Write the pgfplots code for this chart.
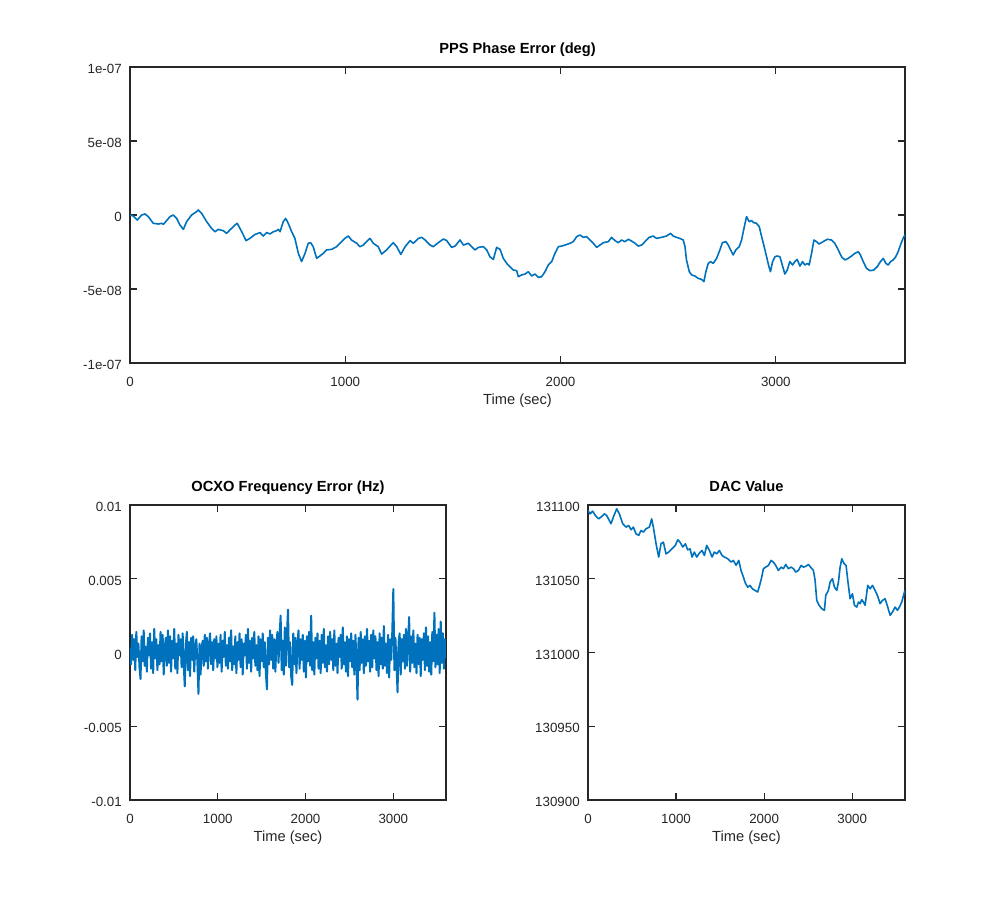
\documentclass[border=0pt]{standalone}
\usepackage{fontspec}
\setmainfont{Liberation Sans}
\usepackage{pgfplots}
\usepackage{pgfplotstable}
\pgfplotsset{compat=1.18}
\definecolor{octblue}{RGB}{0,114,189}
\definecolor{axgray}{rgb}{0.15,0.15,0.15}
\pgfplotsset{
  octave/.style={
    scale only axis,
    scaled y ticks=false,
    scaled x ticks=false,
    axis line style={axgray, line width=0.9pt},
    every tick/.style={axgray, line width=0.9pt},
    major tick length=5pt,
    tick align=inside,
    xmin=0, xmax=3600,
    xtick={0,1000,2000,3000},
    xticklabels={0,1000,2000,3000},
    tick label style={font=\fontsize{10}{12}\selectfont, text=axgray},
    xticklabel style={anchor=base, yshift=-17.5pt},
    yticklabel style={anchor=east, inner sep=0pt, xshift=-6pt, yshift=-1.5pt},
    xlabel={Time (sec)},
    xlabel style={at={(axis description cs:0.5,0)}, anchor=base, yshift=-31pt, font=\fontsize{11}{13}\selectfont, text=axgray},
    title style={at={(axis description cs:0.5,1)}, anchor=base, yshift=4pt, font=\bfseries\fontsize{11}{13}\selectfont, text=black},
  },
  octline/.style={octblue, line width=1.2pt, mark=none, line join=round},
}
\pgfplotstableread{
t v
0 0.00e-8
15 -0.07e-8
34 -0.34e-8
54 0.00e-8
70 0.07e-8
85 -0.11e-8
108 -0.56e-8
132 -0.61e-8
147 -0.56e-8
155 -0.63e-8
170 -0.38e-8
186 -0.11e-8
201 0.00e-8
217 -0.23e-8
232 -0.68e-8
248 -0.97e-8
263 -0.45e-8
286 0.00e-8
310 0.23e-8
317 0.34e-8
333 0.11e-8
356 -0.45e-8
379 -0.90e-8
395 -1.13e-8
410 -0.97e-8
433 -1.06e-8
449 -1.24e-8
464 -1.01e-8
488 -0.68e-8
498 -0.56e-8
519 -1.13e-8
539 -1.73e-8
557 -1.58e-8
581 -1.31e-8
604 -1.19e-8
619 -1.42e-8
635 -1.19e-8
650 -1.28e-8
666 -1.13e-8
681 -1.06e-8
689 -0.97e-8
697 -1.13e-8
712 -0.45e-8
723 -0.23e-8
735 -0.56e-8
751 -1.13e-8
766 -1.58e-8
782 -2.59e-8
797 -3.15e-8
813 -2.59e-8
828 -1.91e-8
839 -1.87e-8
851 -2.14e-8
867 -2.93e-8
882 -2.77e-8
898 -2.59e-8
913 -2.36e-8
937 -2.32e-8
960 -2.14e-8
983 -1.80e-8
998 -1.58e-8
1014 -1.42e-8
1029 -1.69e-8
1053 -1.91e-8
1068 -2.14e-8
1084 -2.03e-8
1099 -1.80e-8
1115 -1.58e-8
1130 -1.91e-8
1153 -2.14e-8
1169 -2.64e-8
1192 -2.36e-8
1208 -2.10e-8
1223 -1.87e-8
1239 -2.14e-8
1258 -2.66e-8
1278 -2.14e-8
1301 -1.73e-8
1316 -1.91e-8
1340 -1.58e-8
1355 -1.51e-8
1371 -1.69e-8
1394 -2.03e-8
1409 -2.14e-8
1432 -1.87e-8
1456 -1.62e-8
1471 -1.73e-8
1494 -2.19e-8
1510 -2.10e-8
1533 -1.69e-8
1549 -2.03e-8
1572 -1.91e-8
1587 -2.14e-8
1603 -2.36e-8
1618 -2.19e-8
1641 -2.14e-8
1657 -2.36e-8
1672 -2.82e-8
1688 -3.00e-8
1703 -2.19e-8
1719 -2.32e-8
1734 -2.93e-8
1750 -3.27e-8
1765 -3.49e-8
1781 -3.72e-8
1796 -3.76e-8
1804 -4.17e-8
1819 -4.05e-8
1835 -3.99e-8
1850 -3.83e-8
1866 -4.12e-8
1881 -3.99e-8
1897 -4.21e-8
1912 -4.17e-8
1928 -3.83e-8
1943 -3.38e-8
1959 -3.15e-8
1974 -2.59e-8
1990 -2.14e-8
2005 -2.10e-8
2021 -2.03e-8
2044 -1.91e-8
2059 -1.80e-8
2075 -1.46e-8
2090 -1.35e-8
2106 -1.51e-8
2121 -1.46e-8
2137 -1.69e-8
2152 -1.91e-8
2168 -2.19e-8
2183 -2.03e-8
2199 -1.87e-8
2222 -1.80e-8
2237 -1.51e-8
2253 -1.73e-8
2268 -1.87e-8
2284 -1.69e-8
2299 -1.80e-8
2315 -1.64e-8
2330 -1.76e-8
2346 -1.91e-8
2361 -2.10e-8
2377 -2.03e-8
2392 -1.80e-8
2412 -1.51e-8
2430 -1.42e-8
2446 -1.58e-8
2469 -1.51e-8
2492 -1.42e-8
2511 -1.24e-8
2523 -1.42e-8
2539 -1.51e-8
2554 -1.58e-8
2570 -1.69e-8
2578 -2.14e-8
2585 -3.04e-8
2598 -3.83e-8
2609 -4.05e-8
2624 -4.12e-8
2639 -4.28e-8
2655 -4.35e-8
2666 -4.50e-8
2675 -3.83e-8
2686 -3.27e-8
2697 -3.15e-8
2709 -3.27e-8
2725 -2.93e-8
2740 -2.36e-8
2752 -1.87e-8
2768 -1.80e-8
2779 -2.03e-8
2790 -2.36e-8
2802 -2.70e-8
2814 -2.36e-8
2830 -2.14e-8
2841 -1.69e-8
2852 -0.90e-8
2864 -0.11e-8
2876 -0.45e-8
2887 -0.38e-8
2898 -0.52e-8
2910 -0.56e-8
2923 -0.79e-8
2934 -1.46e-8
2944 -2.03e-8
2957 -2.82e-8
2968 -3.49e-8
2975 -3.83e-8
2985 -3.15e-8
2996 -2.82e-8
3006 -2.77e-8
3019 -2.82e-8
3030 -3.38e-8
3042 -3.99e-8
3053 -3.72e-8
3065 -3.15e-8
3078 -3.38e-8
3088 -3.15e-8
3099 -3.00e-8
3112 -3.45e-8
3124 -3.15e-8
3135 -3.38e-8
3146 -3.27e-8
3155 -3.38e-8
3166 -2.59e-8
3177 -1.69e-8
3189 -1.80e-8
3201 -1.96e-8
3220 -1.80e-8
3239 -1.64e-8
3259 -1.69e-8
3274 -1.91e-8
3290 -2.36e-8
3305 -2.82e-8
3321 -3.04e-8
3336 -2.93e-8
3352 -2.77e-8
3367 -2.59e-8
3383 -2.48e-8
3393 -2.70e-8
3406 -3.15e-8
3421 -3.60e-8
3437 -3.76e-8
3455 -3.72e-8
3471 -3.49e-8
3486 -3.15e-8
3499 -2.93e-8
3511 -3.27e-8
3522 -3.38e-8
3533 -3.15e-8
3545 -3.04e-8
3557 -2.82e-8
3568 -2.48e-8
3579 -2.03e-8
3591 -1.58e-8
3600 -1.35e-8
}\phasetable
\pgfplotstableread{
t v
0 131096.3
23 131094.0
53 131095.8
83 131092.9
121 131090.6
148 131091.8
186 131094.0
212 131092.9
242 131089.5
261 131087.3
288 131091.8
326 131097.4
356 131094.0
394 131087.3
432 131085.0
462 131086.1
489 131083.2
515 131085.0
545 131080.5
576 131079.4
602 131082.7
629 131081.6
659 131083.9
697 131085.0
723 131090.6
742 131085.0
773 131073.7
803 131064.7
829 131073.7
856 131074.8
886 131066.9
917 131068.1
954 131070.3
992 131072.6
1019 131076.4
1045 131074.8
1076 131071.5
1106 131073.7
1132 131069.6
1159 131070.3
1182 131064.7
1208 131068.1
1235 131064.7
1265 131067.4
1295 131069.2
1322 131065.8
1348 131072.6
1379 131069.2
1409 131064.7
1435 131068.1
1462 131066.9
1492 131069.2
1522 131065.8
1549 131064.7
1587 131063.6
1625 131061.3
1651 131062.4
1682 131059.1
1712 131062.4
1738 131055.6
1765 131051.1
1784 131047.5
1814 131044.2
1840 131045.5
1867 131043.2
1897 131042.1
1927 131041.0
1954 131046.6
1973 131051.1
1992 131056.8
2018 131057.9
2049 131059.0
2079 131062.4
2105 131061.3
2132 131059.0
2162 131055.6
2193 131057.9
2219 131056.8
2246 131059.7
2276 131056.8
2306 131057.9
2333 131056.8
2359 131054.5
2389 131055.6
2420 131059.0
2446 131057.9
2473 131058.4
2503 131059.7
2533 131057.5
2560 131055.6
2579 131048.9
2598 131035.3
2624 131032.0
2655 131029.7
2685 131028.6
2700 131038.7
2730 131042.1
2749 131047.7
2776 131050.0
2798 131044.4
2825 131042.1
2844 131047.7
2863 131057.9
2882 131063.5
2908 131060.2
2931 131059.0
2950 131048.9
2976 131036.5
3003 131039.8
3026 131032.0
3052 131030.8
3071 131034.2
3090 131033.1
3109 131035.8
3128 131034.2
3147 131032.0
3177 131045.5
3204 131043.2
3230 131045.5
3260 131042.1
3287 131038.7
3317 131033.1
3344 131035.3
3374 131036.5
3404 131030.8
3431 131025.2
3457 131027.4
3488 131030.8
3514 131028.6
3537 131030.8
3563 131034.2
3594 131041.0
3600 131042.0
}\dactable
\pgfplotstableread{
t v
0 3e-4
12 -8e-4
24 12e-4
36 -5e-4
48 9e-4
60 -12e-4
72 14e-4
84 -3e-4
96 6e-4
108 -10e-4
120 -18e-4
132 11e-4
144 -6e-4
156 15e-4
168 -9e-4
180 4e-4
192 -13e-4
204 10e-4
216 -2e-4
228 13e-4
240 -11e-4
252 7e-4
264 -14e-4
276 16e-4
288 -4e-4
300 9e-4
312 -12e-4
324 5e-4
336 -8e-4
348 14e-4
360 -6e-4
372 12e-4
384 -15e-4
396 3e-4
408 10e-4
420 -9e-4
432 15e-4
444 -7e-4
456 11e-4
468 -13e-4
480 8e-4
492 -4e-4
504 16e-4
516 -11e-4
528 6e-4
540 -14e-4
552 12e-4
564 -2e-4
576 9e-4
588 -10e-4
600 13e-4
612 -8e-4
624 -23e-4
636 5e-4
648 14e-4
660 -12e-4
672 7e-4
684 -16e-4
696 10e-4
708 -5e-4
720 11e-4
732 -13e-4
744 4e-4
756 9e-4
768 -7e-4
780 -28e-4
792 6e-4
804 -15e-4
816 3e-4
828 8e-4
840 -9e-4
852 12e-4
864 -6e-4
876 10e-4
888 -11e-4
900 5e-4
912 13e-4
924 -8e-4
936 7e-4
948 -12e-4
960 9e-4
972 -4e-4
984 11e-4
996 -10e-4
1008 6e-4
1020 -7e-4
1032 12e-4
1044 -13e-4
1056 8e-4
1068 -3e-4
1080 14e-4
1092 -9e-4
1104 5e-4
1116 -11e-4
1128 10e-4
1140 -6e-4
1152 15e-4
1164 -12e-4
1176 4e-4
1188 -8e-4
1200 11e-4
1212 -14e-4
1224 7e-4
1236 -5e-4
1248 13e-4
1260 -10e-4
1272 9e-4
1284 -15e-4
1296 6e-4
1308 -2e-4
1320 12e-4
1332 -11e-4
1344 16e-4
1356 -7e-4
1368 8e-4
1380 -13e-4
1392 10e-4
1404 -4e-4
1416 14e-4
1428 -9e-4
1440 5e-4
1452 -12e-4
1464 11e-4
1476 -16e-4
1488 9e-4
1500 -6e-4
1512 13e-4
1524 -10e-4
1536 7e-4
1548 -14e-4
1560 -25e-4
1572 10e-4
1584 -8e-4
1596 15e-4
1608 -5e-4
1620 12e-4
1632 -11e-4
1644 9e-4
1656 -13e-4
1668 6e-4
1680 14e-4
1692 -7e-4
1704 11e-4
1716 25e-4
1728 -12e-4
1740 8e-4
1752 -15e-4
1764 17e-4
1776 -9e-4
1788 12e-4
1800 29e-4
1812 -10e-4
1824 7e-4
1836 -16e-4
1848 -22e-4
1860 13e-4
1872 -8e-4
1884 10e-4
1896 -14e-4
1908 6e-4
1920 15e-4
1932 -11e-4
1944 9e-4
1956 -5e-4
1968 12e-4
1980 -13e-4
1992 8e-4
2004 -17e-4
2016 11e-4
2028 -6e-4
2040 14e-4
2052 -9e-4
2064 25e-4
2076 -12e-4
2088 7e-4
2100 -15e-4
2112 10e-4
2124 -4e-4
2136 13e-4
2148 -11e-4
2160 8e-4
2172 -14e-4
2184 12e-4
2196 -7e-4
2208 16e-4
2220 -10e-4
2232 5e-4
2244 -13e-4
2256 11e-4
2268 -8e-4
2280 14e-4
2292 -5e-4
2304 9e-4
2316 -12e-4
2328 15e-4
2340 -9e-4
2352 6e-4
2364 -14e-4
2376 10e-4
2388 -3e-4
2400 12e-4
2412 -11e-4
2424 17e-4
2436 -8e-4
2448 7e-4
2460 -13e-4
2472 11e-4
2484 -16e-4
2496 9e-4
2508 -6e-4
2520 13e-4
2532 -10e-4
2544 8e-4
2556 -15e-4
2568 12e-4
2580 -5e-4
2592 -32e-4
2604 10e-4
2616 -12e-4
2628 14e-4
2640 -7e-4
2652 9e-4
2664 -14e-4
2676 11e-4
2688 -9e-4
2700 16e-4
2712 -6e-4
2724 8e-4
2736 -13e-4
2748 12e-4
2760 -10e-4
2772 15e-4
2784 -4e-4
2796 11e-4
2808 -12e-4
2820 7e-4
2832 -16e-4
2844 13e-4
2856 -8e-4
2868 10e-4
2880 -11e-4
2892 18e-4
2904 -9e-4
2916 6e-4
2928 -14e-4
2940 12e-4
2952 -17e-4
2964 9e-4
2976 -5e-4
2988 14e-4
3000 43e-4
3012 -12e-4
3024 10e-4
3036 -8e-4
3048 -27e-4
3060 7e-4
3072 13e-4
3084 -15e-4
3096 9e-4
3108 -6e-4
3120 12e-4
3132 -11e-4
3144 16e-4
3156 -9e-4
3168 8e-4
3180 24e-4
3192 -13e-4
3204 11e-4
3216 -7e-4
3228 15e-4
3240 -10e-4
3252 6e-4
3264 -14e-4
3276 12e-4
3288 -8e-4
3300 10e-4
3312 -16e-4
3324 9e-4
3336 -5e-4
3348 13e-4
3360 -12e-4
3372 17e-4
3384 -9e-4
3396 11e-4
3408 -13e-4
3420 7e-4
3432 -15e-4
3444 14e-4
3456 -6e-4
3468 27e-4
3480 -10e-4
3492 12e-4
3504 -8e-4
3516 16e-4
3528 -14e-4
3540 21e-4
3552 -7e-4
3564 13e-4
3576 -11e-4
3588 9e-4
3600 -4e-4
}\freqtable
\begin{document}
\begin{tikzpicture}
\path[use as bounding box] (0,0) rectangle (750pt,675pt);
% top axis
\begin{axis}[octave,
  at={(97.5pt,402.75pt)}, anchor=south west,
  width=581.25pt, height=222pt,
  ymin=-1e-7, ymax=1e-7,
  ytick={-1e-7,-5e-8,0,5e-8,1e-7},
  yticklabels={-1e-07,-5e-08,0,5e-08,1e-07},
  title={PPS Phase Error (deg)},
]
\addplot[octline] table[x=t, y=v] {\phasetable};
\end{axis}
% bottom left axis
\begin{axis}[octave,
  at={(97.5pt,75pt)}, anchor=south west,
  width=237pt, height=221.25pt,
  ymin=-0.01, ymax=0.01,
  ytick={-0.01,-0.005,0,0.005,0.01},
  yticklabels={-0.01,-0.005,0,0.005,0.01},
  title={OCXO Frequency Error (Hz)},
]
\addplot[octline, line width=1.5pt] table[x=t, y=v] {\freqtable};
\end{axis}
% bottom right axis
\begin{axis}[octave,
  at={(441pt,75pt)}, anchor=south west,
  width=237.75pt, height=221.25pt,
  ymin=130900, ymax=131100,
  ytick={130900,130950,131000,131050,131100},
  yticklabels={130900,130950,131000,131050,131100},
  title={DAC Value},
]
\addplot[octline] table[x=t, y=v] {\dactable};
\end{axis}
\end{tikzpicture}
\end{document}
